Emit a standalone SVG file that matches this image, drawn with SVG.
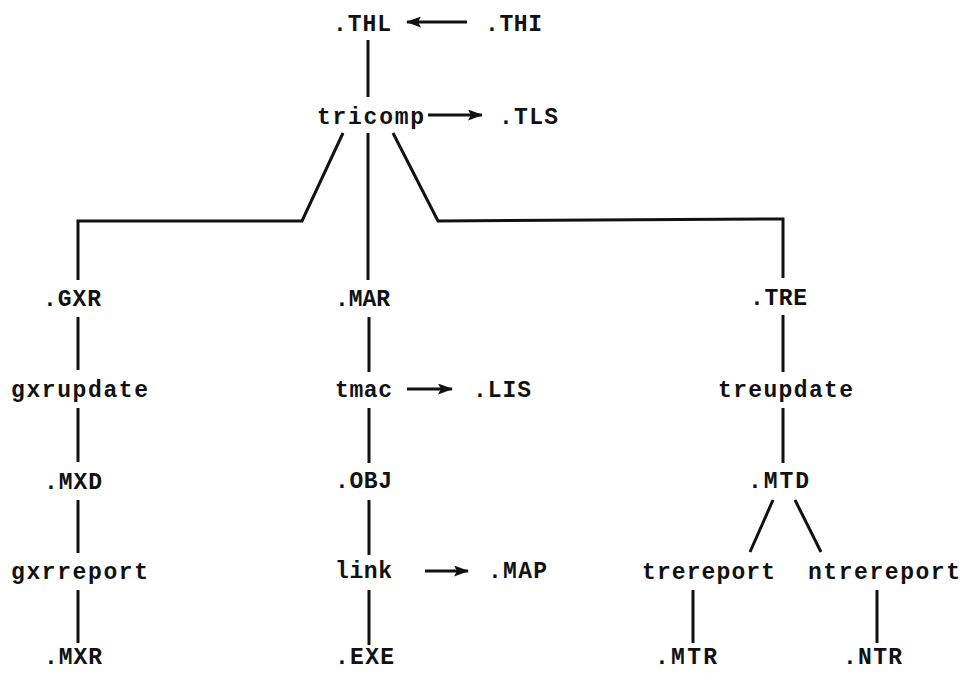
<svg xmlns="http://www.w3.org/2000/svg" width="962" height="673" viewBox="0 0 962 673">
<style>
text{font-family:"Liberation Mono","DejaVu Sans Mono",monospace;font-size:23px;font-weight:bold;fill:#111;}
.c{stroke:#111;stroke-width:3;fill:none;stroke-linejoin:miter;}
</style>
<defs>
<marker id="ah" markerUnits="userSpaceOnUse" markerWidth="15" markerHeight="11" refX="14" refY="5.5" orient="auto">
<path d="M0,0 L15,5.5 L0,11 L3,5.5 Z" fill="#111"/>
</marker>
</defs>
<rect width="962" height="673" fill="#fff"/>
<g id="connectors">
<line class="c" x1="467" y1="22" x2="407" y2="22" marker-end="url(#ah)"/>
<line class="c" x1="368" y1="40" x2="368" y2="97"/>
<line class="c" x1="428" y1="115" x2="482" y2="115" marker-end="url(#ah)"/>
<polyline class="c" points="343,133 302,221 78,221 78,280"/>
<line class="c" x1="368" y1="133" x2="368" y2="280"/>
<polyline class="c" points="393,133 438,221 783,219 783,278"/>
<line class="c" x1="78" y1="317" x2="78" y2="370"/>
<line class="c" x1="78" y1="408" x2="78" y2="462"/>
<line class="c" x1="78" y1="500" x2="78" y2="553"/>
<line class="c" x1="78" y1="590" x2="78" y2="643"/>
<line class="c" x1="369" y1="317" x2="369" y2="372"/>
<line class="c" x1="407" y1="389" x2="452" y2="389" marker-end="url(#ah)"/>
<line class="c" x1="369" y1="408" x2="369" y2="463"/>
<line class="c" x1="369" y1="500" x2="369" y2="555"/>
<line class="c" x1="425" y1="571" x2="468" y2="571" marker-end="url(#ah)"/>
<line class="c" x1="369" y1="590" x2="369" y2="645"/>
<line class="c" x1="783" y1="315" x2="783" y2="372"/>
<line class="c" x1="783" y1="408" x2="783" y2="463"/>
<line class="c" x1="773" y1="500" x2="750" y2="552"/>
<line class="c" x1="795" y1="500" x2="821" y2="552"/>
<line class="c" x1="693" y1="590" x2="693" y2="643"/>
<line class="c" x1="877" y1="590" x2="877" y2="643"/>
</g>
<g id="THL"><text x="333" y="31" textLength="58" lengthAdjust="spacing">.THL</text></g>
<g id="THI"><text x="485" y="31" textLength="57" lengthAdjust="spacing">.THI</text></g>
<g id="tricomp"><text x="317" y="124" textLength="107" lengthAdjust="spacing">tricomp</text></g>
<g id="TLS"><text x="499" y="124" textLength="59" lengthAdjust="spacing">.TLS</text></g>
<g id="GXR"><text x="43" y="306" textLength="58" lengthAdjust="spacing">.GXR</text></g>
<g id="MAR"><text x="335" y="306" textLength="55" lengthAdjust="spacing">.MAR</text></g>
<g id="TRE"><text x="750" y="305" textLength="57" lengthAdjust="spacing">.TRE</text></g>
<g id="gxrupdate"><text x="11" y="397" textLength="137" lengthAdjust="spacing">gxrupdate</text></g>
<g id="tmac"><text x="335" y="397" textLength="57" lengthAdjust="spacing">tmac</text></g>
<g id="LIS"><text x="473" y="397" textLength="58" lengthAdjust="spacing">.LIS</text></g>
<g id="treupdate"><text x="718" y="397" textLength="135" lengthAdjust="spacing">treupdate</text></g>
<g id="MXD"><text x="44" y="489" textLength="58" lengthAdjust="spacing">.MXD</text></g>
<g id="OBJ"><text x="335" y="488" textLength="57" lengthAdjust="spacing">.OBJ</text></g>
<g id="MTD"><text x="748" y="488" textLength="61" lengthAdjust="spacing">.MTD</text></g>
<g id="gxrreport"><text x="11" y="579" textLength="137" lengthAdjust="spacing">gxrreport</text></g>
<g id="link"><text x="335" y="578" textLength="57" lengthAdjust="spacing">link</text></g>
<g id="MAP"><text x="488" y="578" textLength="59" lengthAdjust="spacing">.MAP</text></g>
<g id="trereport"><text x="642" y="579" textLength="133" lengthAdjust="spacing">trereport</text></g>
<g id="ntrereport"><text x="808" y="579" textLength="152" lengthAdjust="spacing">ntrereport</text></g>
<g id="MXR"><text x="44" y="664" textLength="58" lengthAdjust="spacing">.MXR</text></g>
<g id="EXE"><text x="335" y="664" textLength="59" lengthAdjust="spacing">.EXE</text></g>
<g id="MTR"><text x="655" y="664" textLength="62" lengthAdjust="spacing">.MTR</text></g>
<g id="NTR"><text x="843" y="664" textLength="59" lengthAdjust="spacing">.NTR</text></g>
</svg>
